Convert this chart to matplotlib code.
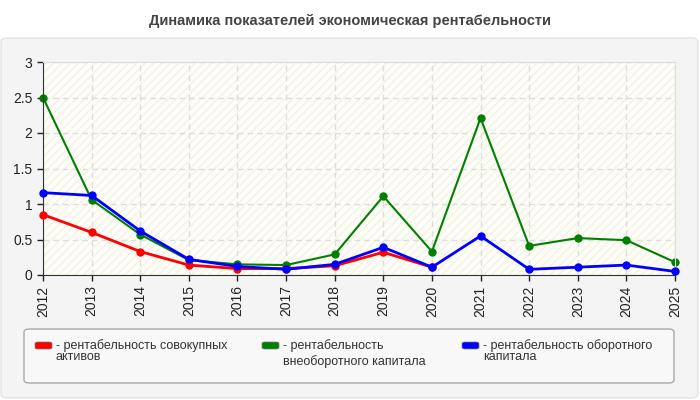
import matplotlib.pyplot as plt
from matplotlib.patches import FancyBboxPatch, Rectangle

years = [2012, 2013, 2014, 2015, 2016, 2017, 2018, 2019, 2020, 2021, 2022, 2023, 2024, 2025]
assets = [0.85, 0.6, 0.33, 0.14, 0.09, 0.09, 0.13, 0.32, 0.11]
noncurrent = [2.5, 1.06, 0.57, 0.21, 0.15, 0.14, 0.29, 1.11, 0.33, 2.21, 0.41, 0.52, 0.49, 0.18]
working = [1.16, 1.12, 0.62, 0.22, 0.12, 0.08, 0.15, 0.39, 0.11, 0.55, 0.08, 0.11, 0.14, 0.05]

labels = ['рентабельность совокупных\nактивов',
          'рентабельность\nвнеоборотного капитала',
          'рентабельность оборотного\nкапитала']
colors = ['#ff0000', '#008000', '#0000ff']

plt.rcParams['font.family'] = ['Liberation Sans', 'DejaVu Sans']

fig = plt.figure(figsize=(7, 4), dpi=100)
fig.patch.set_facecolor('white')

# gray panel behind the chart
panel = FancyBboxPatch((1 / 700, 2 / 400), 697 / 700, 360 / 400,
                       boxstyle='round,pad=0,rounding_size=0.01',
                       transform=fig.transFigure, facecolor='#f4f4f4',
                       edgecolor='#e4e4e4', lw=1, zorder=-2)
fig.patches.append(panel)

fig.text(0.5, 379 / 400, 'Динамика показателей экономическая рентабельности',
         ha='center', va='center', fontsize=10.5, fontweight='bold', color='#444444')

ax = fig.add_axes([43 / 700, 125 / 400, 632 / 700, 213 / 400])
ax.set_facecolor('#fefef6')
ax.add_patch(Rectangle((0, 0), 1, 1, transform=ax.transAxes, facecolor='none',
                       edgecolor='#f2f2ec', hatch='////', lw=0, zorder=0))

ax.plot(years[:len(assets)], assets, color=colors[0], lw=2, marker='o', ms=5,
        zorder=3, clip_on=False)
ax.plot(years, noncurrent, color=colors[1], lw=1.5, marker='o', ms=5,
        zorder=2, clip_on=False)
ax.plot(years, working, color=colors[2], lw=2, marker='o', ms=5,
        zorder=4, clip_on=False)

ax.set_xlim(2012, 2025)
ax.set_ylim(0, 3)
ax.set_xticks(years)
ax.set_xticklabels([str(y) for y in years], rotation=90)
ax.set_yticks([0, 0.5, 1, 1.5, 2, 2.5, 3])
ax.set_yticklabels(['0', '0.5', '1', '1.5', '2', '2.5', '3'])
ax.tick_params(labelsize=10, colors='#222222', length=4, width=1)
ax.grid(True, color='#dddddd', ls=(0, (4, 3)), lw=1)
for s in ['top', 'right']:
    ax.spines[s].set_color('#dddddd')
for s in ['left', 'bottom']:
    ax.spines[s].set_color('#333333')

# legend box
leg = FancyBboxPatch((24 / 700, 17 / 400), 650 / 700, 54 / 400,
                     boxstyle='round,pad=0,rounding_size=0.008',
                     transform=fig.transFigure, facecolor='#f8f8f8',
                     edgecolor='#aaaaaa', lw=1, zorder=-1)
fig.patches.append(leg)
xs = [35, 262, 462]
spacing = [0.95, 1.3, 0.95]
for x, c, lab, sp in zip(xs, colors, labels, spacing):
    fig.patches.append(FancyBboxPatch((x / 700, 51 / 400), 17 / 700, 7 / 400,
                                      boxstyle='round,pad=0,rounding_size=0.004',
                                      transform=fig.transFigure, facecolor=c,
                                      edgecolor='#777777', lw=0.5))
    fig.text((x + 21) / 700, 61 / 400, '- ' + lab, ha='left', va='top',
             fontsize=9, color='#333333', linespacing=sp)

fig.savefig('out.png', dpi=100)
